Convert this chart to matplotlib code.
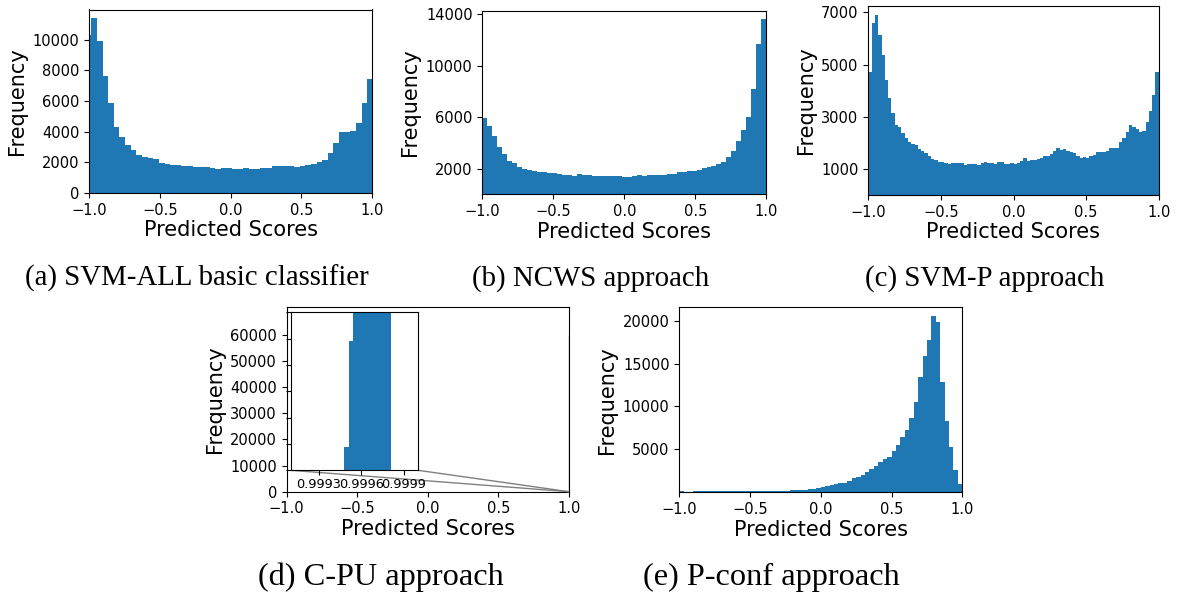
import numpy as np
import matplotlib
matplotlib.use("Agg")
import matplotlib.pyplot as plt
from mpl_toolkits.axes_grid1.inset_locator import mark_inset

# Histogram counts (one value per bin)

# (a) SVM-ALL basic classifier
a_range = (-1.0233, 1.0065)
a_counts = [10300, 11400, 9900, 7600, 5860, 4300, 3650, 3120, 2800, 2470,
            2360, 2280, 2190, 1970, 1890, 1840, 1840, 1780, 1760, 1710,
            1710, 1690, 1650, 1560, 1630, 1630, 1580, 1580, 1630, 1560,
            1560, 1630, 1630, 1760, 1780, 1780, 1760, 1690, 1780, 1820,
            1910, 2020, 2150, 2600, 3250, 3970, 3970, 4030, 4550, 5860, 7420]

# (b) NCWS approach
b_range = (-1.0, 1.0)
b_counts = [5950, 5330, 4550, 3700, 3160, 2620, 2460, 2150, 2000, 1920,
            1850, 1700, 1770, 1690, 1620, 1610, 1540, 1480, 1460, 1600,
            1470, 1470, 1460, 1450, 1400, 1450, 1460, 1400, 1380, 1380,
            1440, 1500, 1460, 1530, 1540, 1540, 1540, 1600, 1610, 1700,
            1740, 1830, 1850, 1900, 2050, 2130, 2220, 2350, 2550, 2900,
            3400, 4150, 5000, 6000, 8200, 11700, 13600]

# (c) SVM-P approach
c_range = (-1.0, 1.0)
c_counts = [4700, 6600, 6900, 6150, 5350, 4400, 3700, 3150, 2680, 2600,
            2380, 2200, 2030, 1940, 1900, 1770, 1680, 1600, 1500, 1370,
            1330, 1270, 1250, 1240, 1200, 1230, 1220, 1220, 1210, 1160,
            1180, 1190, 1200, 1160, 1210, 1250, 1230, 1210, 1200, 1280,
            1250, 1180, 1200, 1230, 1200, 1240, 1320, 1400, 1300, 1360,
            1360, 1380, 1400, 1500, 1500, 1560, 1700, 1800, 1740, 1760,
            1700, 1650, 1610, 1500, 1430, 1460, 1430, 1490, 1550, 1630,
            1660, 1660, 1700, 1790, 1790, 1800, 2050, 2200, 2430, 2700,
            2620, 2540, 2400, 2450, 2800, 3230, 3850, 4700]

# (d) C-PU approach (all scores squeezed just below 1.0)
d_range = (0.999477, 0.99981)
d_counts = [8900, 49100, 61500, 64000, 66200, 67200, 66000, 64500, 62800, 61000]

# (e) P-conf approach
e_range = (-1.0, 1.0)
e_counts = [60, 50, 50, 60, 70, 60, 80, 70, 90, 80,
            90, 100, 90, 110, 100, 120, 110, 120, 130, 120,
            130, 140, 130, 140, 150, 180, 220, 220, 260, 300,
            380, 500, 610, 650, 770, 890, 1040, 1040, 1320, 1590,
            1790, 2020, 2300, 2690, 3080, 3550, 3870, 4140, 4800, 5430,
            6370, 7270, 8600, 10560, 13450, 15840, 17720, 20540, 19900, 12830,
            8330, 5270, 2570, 930]

captions = ["(a) SVM-ALL basic classifier", "(b) NCWS approach", "(c) SVM-P approach",
            "(d) C-PU approach", "(e) P-conf approach"]

W, H = 1186, 594
BLUE = "#1f77b4"
plt.rcParams["font.family"] = "DejaVu Sans"


def box(l, t, r, b):
    # pixel box -> figure fraction
    return [l / W, 1 - b / H, (r - l) / W, (b - t) / H]


def draw_hist(ax, counts, rng):
    edges = np.linspace(rng[0], rng[1], len(counts) + 1)
    centers = (edges[:-1] + edges[1:]) / 2
    ax.hist(centers, bins=edges, weights=counts, color=BLUE, histtype="stepfilled")


def style(ax):
    ax.set_xlim(-1, 1)
    ax.set_xticks([-1.0, -0.5, 0.0, 0.5, 1.0])
    ax.tick_params(labelsize=10.5)
    ax.set_xlabel("Predicted Scores", fontsize=15, labelpad=2)
    ax.set_ylabel("Frequency", fontsize=15)


fig = plt.figure(figsize=(W / 100, H / 100), dpi=100)

ax_a = fig.add_axes(box(89, 9.5, 372, 193))
draw_hist(ax_a, a_counts, a_range)
style(ax_a)

ax_b = fig.add_axes(box(482.3, 10.7, 766.3, 194.3))
draw_hist(ax_b, b_counts, b_range)
style(ax_b)
ax_b.set_yticks([2000, 6000, 10000, 14000])

ax_c = fig.add_axes(box(868.3, 6, 1158.7, 195))
draw_hist(ax_c, c_counts, c_range)
style(ax_c)
ax_c.set_yticks([1000, 3000, 5000, 7000])

ax_d = fig.add_axes(box(286.7, 307, 569, 491.7))
draw_hist(ax_d, d_counts, d_range)
style(ax_d)
ax_d.set_yticks(np.arange(0, 60001, 10000))

axins = fig.add_axes(box(290.7, 312.3, 418, 470.3))
draw_hist(axins, d_counts, d_range)
axins.set_xlim(0.9991, 1.0)
axins.set_ylim(0, 60000)
axins.set_xticks([0.9993, 0.9996, 0.9999], labels=["0.9993", "0.9996", "0.9999"])
axins.set_yticks(np.arange(0, 60001, 10000), labels=[])
axins.tick_params(labelsize=9.3, pad=2)
mark_inset(ax_d, axins, loc1=3, loc2=4, fc="none", ec="0.5")

ax_e = fig.add_axes(box(679.3, 307.3, 962.3, 492))
draw_hist(ax_e, e_counts, e_range)
style(ax_e)
ax_e.set_yticks([5000, 10000, 15000, 20000])

# captions under each panel (bottom row is printed a bit larger)
cap_pos = [(197, 286), (591, 286), (985, 286), (381, 585), (771, 585)]
cap_size = [20.8, 20.8, 20.8, 23.3, 23.3]
for txt, (x, y), fs in zip(captions, cap_pos, cap_size):
    fig.text(x / W, 1 - y / H, txt, ha="center", va="baseline",
             fontsize=fs, family="Liberation Serif")

fig.savefig("out.png", dpi=100)
